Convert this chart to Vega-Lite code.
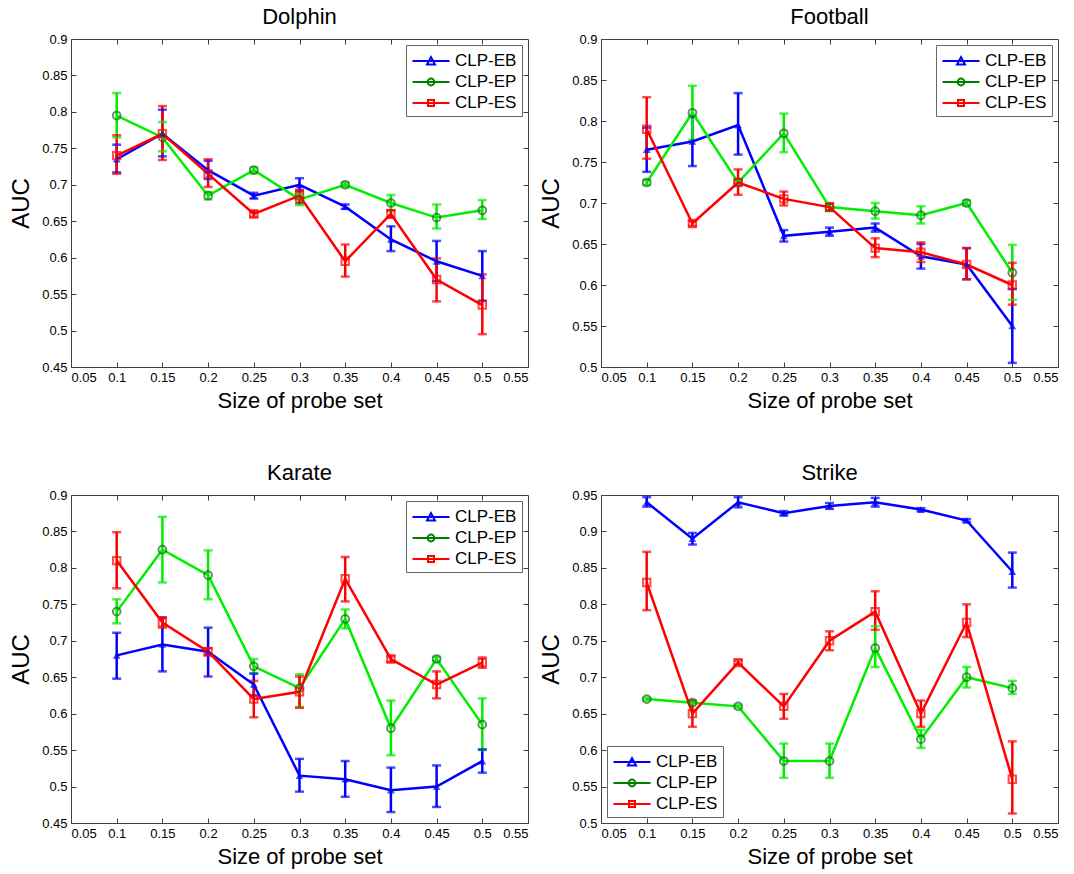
{
  "$schema": "https://vega.github.io/schema/vega-lite/v6.json",
  "background": "white",
  "padding": {"left": 9, "top": 5, "right": 5, "bottom": 5},
  "config": {
    "font": "Liberation Sans",
    "view": {"stroke": "#404040", "strokeWidth": 1},
    "title": {"fontSize": 22, "fontWeight": "normal", "font": "Liberation Sans", "color": "black", "offset": 4},
    "axis": {"grid": false, "domainColor": "#404040", "tickColor": "#404040", "labelFont": "Liberation Sans", "labelFontSize": 13, "labelColor": "black", "labelOverlap": false, "titleFont": "Liberation Sans", "titleFontWeight": "normal", "titleColor": "black", "tickSize": -5, "labelPadding": 9, "tickCount": 20},
    "axisX": {"titleFontSize": 22, "titlePadding": 6},
    "axisY": {"titleFontSize": 24, "titlePadding": 8},
    "legend": {"labelFont": "Liberation Sans", "labelFontSize": 17, "labelColor": "black", "strokeColor": "#666666", "fillColor": "white", "padding": 5, "rowPadding": 2, "offset": 6, "symbolSize": 400, "symbolOffset": 9, "symbolStrokeWidth": 2, "labelOffset": 13, "title": null}
  },
  "data": {"values": [
    {"p":"Dolphin","s":"CLP-EB","x":0.1,"y":0.735,"lo":0.717,"hi":0.755},
    {"p":"Dolphin","s":"CLP-EB","x":0.15,"y":0.77,"lo":0.739,"hi":0.803},
    {"p":"Dolphin","s":"CLP-EB","x":0.2,"y":0.72,"lo":0.708,"hi":0.733},
    {"p":"Dolphin","s":"CLP-EB","x":0.25,"y":0.685,"lo":0.681,"hi":0.689},
    {"p":"Dolphin","s":"CLP-EB","x":0.3,"y":0.7,"lo":0.692,"hi":0.709},
    {"p":"Dolphin","s":"CLP-EB","x":0.35,"y":0.67,"lo":0.667,"hi":0.673},
    {"p":"Dolphin","s":"CLP-EB","x":0.4,"y":0.625,"lo":0.609,"hi":0.643},
    {"p":"Dolphin","s":"CLP-EB","x":0.45,"y":0.595,"lo":0.568,"hi":0.623},
    {"p":"Dolphin","s":"CLP-EB","x":0.5,"y":0.575,"lo":0.541,"hi":0.609},
    {"p":"Dolphin","s":"CLP-EP","x":0.1,"y":0.795,"lo":0.765,"hi":0.826},
    {"p":"Dolphin","s":"CLP-EP","x":0.15,"y":0.765,"lo":0.746,"hi":0.786},
    {"p":"Dolphin","s":"CLP-EP","x":0.2,"y":0.685,"lo":0.68,"hi":0.69},
    {"p":"Dolphin","s":"CLP-EP","x":0.25,"y":0.72,"lo":0.716,"hi":0.724},
    {"p":"Dolphin","s":"CLP-EP","x":0.3,"y":0.68,"lo":0.672,"hi":0.688},
    {"p":"Dolphin","s":"CLP-EP","x":0.35,"y":0.7,"lo":0.697,"hi":0.703},
    {"p":"Dolphin","s":"CLP-EP","x":0.4,"y":0.675,"lo":0.665,"hi":0.686},
    {"p":"Dolphin","s":"CLP-EP","x":0.45,"y":0.655,"lo":0.64,"hi":0.673},
    {"p":"Dolphin","s":"CLP-EP","x":0.5,"y":0.665,"lo":0.653,"hi":0.679},
    {"p":"Dolphin","s":"CLP-ES","x":0.1,"y":0.74,"lo":0.715,"hi":0.768},
    {"p":"Dolphin","s":"CLP-ES","x":0.15,"y":0.77,"lo":0.734,"hi":0.808},
    {"p":"Dolphin","s":"CLP-ES","x":0.2,"y":0.715,"lo":0.697,"hi":0.735},
    {"p":"Dolphin","s":"CLP-ES","x":0.25,"y":0.66,"lo":0.656,"hi":0.664},
    {"p":"Dolphin","s":"CLP-ES","x":0.3,"y":0.685,"lo":0.675,"hi":0.693},
    {"p":"Dolphin","s":"CLP-ES","x":0.35,"y":0.595,"lo":0.574,"hi":0.618},
    {"p":"Dolphin","s":"CLP-ES","x":0.4,"y":0.66,"lo":0.655,"hi":0.665},
    {"p":"Dolphin","s":"CLP-ES","x":0.45,"y":0.57,"lo":0.54,"hi":0.599},
    {"p":"Dolphin","s":"CLP-ES","x":0.5,"y":0.535,"lo":0.495,"hi":0.577},
    {"p":"Football","s":"CLP-EB","x":0.1,"y":0.765,"lo":0.738,"hi":0.792},
    {"p":"Football","s":"CLP-EB","x":0.15,"y":0.775,"lo":0.745,"hi":0.805},
    {"p":"Football","s":"CLP-EB","x":0.2,"y":0.795,"lo":0.759,"hi":0.834},
    {"p":"Football","s":"CLP-EB","x":0.25,"y":0.66,"lo":0.653,"hi":0.667},
    {"p":"Football","s":"CLP-EB","x":0.3,"y":0.665,"lo":0.66,"hi":0.67},
    {"p":"Football","s":"CLP-EB","x":0.35,"y":0.67,"lo":0.665,"hi":0.675},
    {"p":"Football","s":"CLP-EB","x":0.4,"y":0.635,"lo":0.62,"hi":0.65},
    {"p":"Football","s":"CLP-EB","x":0.45,"y":0.625,"lo":0.607,"hi":0.645},
    {"p":"Football","s":"CLP-EB","x":0.5,"y":0.55,"lo":0.505,"hi":0.595},
    {"p":"Football","s":"CLP-EP","x":0.1,"y":0.725,"lo":0.722,"hi":0.728},
    {"p":"Football","s":"CLP-EP","x":0.15,"y":0.81,"lo":0.777,"hi":0.843},
    {"p":"Football","s":"CLP-EP","x":0.2,"y":0.725,"lo":0.722,"hi":0.728},
    {"p":"Football","s":"CLP-EP","x":0.25,"y":0.785,"lo":0.762,"hi":0.809},
    {"p":"Football","s":"CLP-EP","x":0.3,"y":0.695,"lo":0.69,"hi":0.7},
    {"p":"Football","s":"CLP-EP","x":0.35,"y":0.69,"lo":0.681,"hi":0.7},
    {"p":"Football","s":"CLP-EP","x":0.4,"y":0.685,"lo":0.675,"hi":0.696},
    {"p":"Football","s":"CLP-EP","x":0.45,"y":0.7,"lo":0.697,"hi":0.703},
    {"p":"Football","s":"CLP-EP","x":0.5,"y":0.615,"lo":0.582,"hi":0.649},
    {"p":"Football","s":"CLP-ES","x":0.1,"y":0.79,"lo":0.754,"hi":0.829},
    {"p":"Football","s":"CLP-ES","x":0.15,"y":0.675,"lo":0.672,"hi":0.678},
    {"p":"Football","s":"CLP-ES","x":0.2,"y":0.725,"lo":0.71,"hi":0.741},
    {"p":"Football","s":"CLP-ES","x":0.25,"y":0.705,"lo":0.697,"hi":0.714},
    {"p":"Football","s":"CLP-ES","x":0.3,"y":0.695,"lo":0.691,"hi":0.699},
    {"p":"Football","s":"CLP-ES","x":0.35,"y":0.645,"lo":0.634,"hi":0.657},
    {"p":"Football","s":"CLP-ES","x":0.4,"y":0.64,"lo":0.628,"hi":0.652},
    {"p":"Football","s":"CLP-ES","x":0.45,"y":0.625,"lo":0.607,"hi":0.645},
    {"p":"Football","s":"CLP-ES","x":0.5,"y":0.6,"lo":0.576,"hi":0.627},
    {"p":"Karate","s":"CLP-EB","x":0.1,"y":0.68,"lo":0.648,"hi":0.711},
    {"p":"Karate","s":"CLP-EB","x":0.15,"y":0.695,"lo":0.658,"hi":0.732},
    {"p":"Karate","s":"CLP-EB","x":0.2,"y":0.685,"lo":0.651,"hi":0.718},
    {"p":"Karate","s":"CLP-EB","x":0.25,"y":0.64,"lo":0.625,"hi":0.655},
    {"p":"Karate","s":"CLP-EB","x":0.3,"y":0.515,"lo":0.493,"hi":0.538},
    {"p":"Karate","s":"CLP-EB","x":0.35,"y":0.51,"lo":0.486,"hi":0.535},
    {"p":"Karate","s":"CLP-EB","x":0.4,"y":0.495,"lo":0.465,"hi":0.526},
    {"p":"Karate","s":"CLP-EB","x":0.45,"y":0.5,"lo":0.472,"hi":0.529},
    {"p":"Karate","s":"CLP-EB","x":0.5,"y":0.535,"lo":0.519,"hi":0.551},
    {"p":"Karate","s":"CLP-EP","x":0.1,"y":0.74,"lo":0.724,"hi":0.757},
    {"p":"Karate","s":"CLP-EP","x":0.15,"y":0.825,"lo":0.78,"hi":0.87},
    {"p":"Karate","s":"CLP-EP","x":0.2,"y":0.79,"lo":0.757,"hi":0.824},
    {"p":"Karate","s":"CLP-EP","x":0.25,"y":0.665,"lo":0.655,"hi":0.675},
    {"p":"Karate","s":"CLP-EP","x":0.3,"y":0.635,"lo":0.609,"hi":0.654},
    {"p":"Karate","s":"CLP-EP","x":0.35,"y":0.73,"lo":0.717,"hi":0.743},
    {"p":"Karate","s":"CLP-EP","x":0.4,"y":0.58,"lo":0.543,"hi":0.618},
    {"p":"Karate","s":"CLP-EP","x":0.45,"y":0.675,"lo":0.672,"hi":0.678},
    {"p":"Karate","s":"CLP-EP","x":0.5,"y":0.585,"lo":0.55,"hi":0.621},
    {"p":"Karate","s":"CLP-ES","x":0.1,"y":0.81,"lo":0.772,"hi":0.849},
    {"p":"Karate","s":"CLP-ES","x":0.15,"y":0.725,"lo":0.718,"hi":0.732},
    {"p":"Karate","s":"CLP-ES","x":0.2,"y":0.685,"lo":0.68,"hi":0.69},
    {"p":"Karate","s":"CLP-ES","x":0.25,"y":0.62,"lo":0.595,"hi":0.645},
    {"p":"Karate","s":"CLP-ES","x":0.3,"y":0.63,"lo":0.608,"hi":0.651},
    {"p":"Karate","s":"CLP-ES","x":0.35,"y":0.785,"lo":0.754,"hi":0.815},
    {"p":"Karate","s":"CLP-ES","x":0.4,"y":0.675,"lo":0.671,"hi":0.679},
    {"p":"Karate","s":"CLP-ES","x":0.45,"y":0.64,"lo":0.621,"hi":0.658},
    {"p":"Karate","s":"CLP-ES","x":0.5,"y":0.67,"lo":0.663,"hi":0.677},
    {"p":"Strike","s":"CLP-EB","x":0.1,"y":0.94,"lo":0.934,"hi":0.947},
    {"p":"Strike","s":"CLP-EB","x":0.15,"y":0.89,"lo":0.882,"hi":0.898},
    {"p":"Strike","s":"CLP-EB","x":0.2,"y":0.94,"lo":0.933,"hi":0.947},
    {"p":"Strike","s":"CLP-EB","x":0.25,"y":0.925,"lo":0.922,"hi":0.928},
    {"p":"Strike","s":"CLP-EB","x":0.3,"y":0.935,"lo":0.931,"hi":0.939},
    {"p":"Strike","s":"CLP-EB","x":0.35,"y":0.94,"lo":0.934,"hi":0.946},
    {"p":"Strike","s":"CLP-EB","x":0.4,"y":0.93,"lo":0.928,"hi":0.932},
    {"p":"Strike","s":"CLP-EB","x":0.45,"y":0.915,"lo":0.913,"hi":0.917},
    {"p":"Strike","s":"CLP-EB","x":0.5,"y":0.845,"lo":0.823,"hi":0.871},
    {"p":"Strike","s":"CLP-EP","x":0.1,"y":0.67,"lo":0.668,"hi":0.672},
    {"p":"Strike","s":"CLP-EP","x":0.15,"y":0.665,"lo":0.663,"hi":0.667},
    {"p":"Strike","s":"CLP-EP","x":0.2,"y":0.66,"lo":0.658,"hi":0.662},
    {"p":"Strike","s":"CLP-EP","x":0.25,"y":0.585,"lo":0.562,"hi":0.609},
    {"p":"Strike","s":"CLP-EP","x":0.3,"y":0.585,"lo":0.562,"hi":0.609},
    {"p":"Strike","s":"CLP-EP","x":0.35,"y":0.74,"lo":0.714,"hi":0.77},
    {"p":"Strike","s":"CLP-EP","x":0.4,"y":0.615,"lo":0.603,"hi":0.628},
    {"p":"Strike","s":"CLP-EP","x":0.45,"y":0.7,"lo":0.686,"hi":0.714},
    {"p":"Strike","s":"CLP-EP","x":0.5,"y":0.685,"lo":0.677,"hi":0.695},
    {"p":"Strike","s":"CLP-ES","x":0.1,"y":0.83,"lo":0.792,"hi":0.872},
    {"p":"Strike","s":"CLP-ES","x":0.15,"y":0.65,"lo":0.632,"hi":0.668},
    {"p":"Strike","s":"CLP-ES","x":0.2,"y":0.72,"lo":0.717,"hi":0.723},
    {"p":"Strike","s":"CLP-ES","x":0.25,"y":0.66,"lo":0.643,"hi":0.677},
    {"p":"Strike","s":"CLP-ES","x":0.3,"y":0.75,"lo":0.737,"hi":0.763},
    {"p":"Strike","s":"CLP-ES","x":0.35,"y":0.79,"lo":0.765,"hi":0.818},
    {"p":"Strike","s":"CLP-ES","x":0.4,"y":0.65,"lo":0.632,"hi":0.668},
    {"p":"Strike","s":"CLP-ES","x":0.45,"y":0.775,"lo":0.755,"hi":0.8},
    {"p":"Strike","s":"CLP-ES","x":0.5,"y":0.56,"lo":0.513,"hi":0.612}
  ]},
  "resolve": {"legend": {"stroke": "independent", "shape": "independent"}, "scale": {"y": "independent", "stroke": "independent", "shape": "independent"}},
  "spacing": 49,
  "vconcat": [
    {
      "spacing": 10,
      "resolve": {"legend": {"stroke": "independent", "shape": "independent"}, "scale": {"y": "independent", "stroke": "independent", "shape": "independent"}},
      "hconcat": [
        {
          "title": "Dolphin", "width": 457, "height": 328,
          "transform": [{"filter": "datum.p === 'Dolphin'"}],
          "resolve": {"axis": {"x": "independent", "y": "independent"}},
          "layer": [
            {
              "encoding": {"x": {"field": "x", "type": "quantitative", "title": "Size of probe set", "scale": {"domain": [0.05, 0.55], "nice": false, "zero": false}, "axis": {"values": [0.05, 0.1, 0.15, 0.2, 0.25, 0.3, 0.35, 0.4, 0.45, 0.5, 0.55], "format": "~g", "tickCount": 20}}},
              "layer": [
                {"mark": {"type": "rule", "strokeWidth": 2.5}, "encoding": {"y": {"field": "lo", "type": "quantitative", "title": "AUC", "scale": {"domain": [0.45, 0.9], "nice": false, "zero": false}, "axis": {"values": [0.45, 0.5, 0.55, 0.6, 0.65, 0.7, 0.75, 0.8, 0.85, 0.9], "format": "~g", "tickCount": 20}}, "y2": {"field": "hi"}, "color": {"field": "s", "type": "nominal", "scale": {"domain": ["CLP-EB", "CLP-EP", "CLP-ES"], "range": ["#0000ff", "#00ee00", "#ff0000"]}, "legend": null}}},
                {"mark": {"type": "tick", "orient": "horizontal", "size": 9, "thickness": 2.5}, "encoding": {"y": {"field": "lo", "type": "quantitative", "title": "AUC"}, "color": {"field": "s", "type": "nominal", "legend": null}}},
                {"mark": {"type": "tick", "orient": "horizontal", "size": 9, "thickness": 2.5}, "encoding": {"y": {"field": "hi", "type": "quantitative", "title": "AUC"}, "color": {"field": "s", "type": "nominal", "legend": null}}},
                {"mark": {"type": "line", "strokeWidth": 2.5}, "encoding": {"y": {"field": "y", "type": "quantitative", "title": "AUC"}, "color": {"field": "s", "type": "nominal", "legend": null}}},
                {"transform": [{"filter": "datum.s === 'CLP-EB'"}], "mark": {"type": "point", "shape": "triangle-up", "filled": true, "size": 60, "color": "#0000ff"}, "encoding": {"y": {"field": "y", "type": "quantitative", "title": "AUC"}}},
                {"transform": [{"filter": "datum.s === 'CLP-EP'"}], "mark": {"type": "point", "shape": "circle", "filled": false, "size": 60, "strokeWidth": 2, "color": "#1c6b1c"}, "encoding": {"y": {"field": "y", "type": "quantitative", "title": "AUC"}}},
                {"transform": [{"filter": "datum.s === 'CLP-ES'"}], "mark": {"type": "point", "shape": "square", "filled": false, "size": 55, "strokeWidth": 2, "color": "#ff0000"}, "encoding": {"y": {"field": "y", "type": "quantitative", "title": "AUC"}}},
                {"mark": {"type": "point", "opacity": 0, "filled": false}, "encoding": {"y": {"field": "y", "type": "quantitative", "title": "AUC"}, "stroke": {"field": "s", "type": "nominal", "scale": {"domain": ["CLP-EB", "CLP-EP", "CLP-ES"], "range": ["#0000ff", "#008000", "#ff0000"]}, "legend": {"orient": "top-right", "symbolOpacity": 1}}, "shape": {"field": "s", "type": "nominal", "scale": {"domain": ["CLP-EB", "CLP-EP", "CLP-ES"], "range": ["M-1.85,0H1.85M-0.4,0.34L0,-0.4L0.4,0.34Z", "M-1.85,0H1.85M-0.34,0A0.34,0.34 0 1,0 0.34,0A0.34,0.34 0 1,0 -0.34,0", "M-1.85,0H1.85M-0.3,-0.3H0.3V0.3H-0.3Z"]}, "legend": {"orient": "top-right", "symbolOpacity": 1}}}}
              ]
            },
            {"mark": {"type": "point", "opacity": 0}, "encoding": {"x": {"field": "x", "type": "quantitative", "title": null, "axis": {"orient": "top", "labels": false, "domain": false, "values": [0.1, 0.15, 0.2, 0.25, 0.3, 0.35, 0.4, 0.45, 0.5], "tickCount": 20}}, "y": {"field": "y", "type": "quantitative", "title": null, "axis": {"orient": "right", "labels": false, "domain": false, "values": [0.5, 0.55, 0.6, 0.65, 0.7, 0.75, 0.8, 0.85], "tickCount": 20}}}}
          ]
        },
        {
          "title": "Football", "width": 457, "height": 328,
          "transform": [{"filter": "datum.p === 'Football'"}],
          "resolve": {"axis": {"x": "independent", "y": "independent"}},
          "layer": [
            {
              "encoding": {"x": {"field": "x", "type": "quantitative", "title": "Size of probe set", "scale": {"domain": [0.05, 0.55], "nice": false, "zero": false}, "axis": {"values": [0.05, 0.1, 0.15, 0.2, 0.25, 0.3, 0.35, 0.4, 0.45, 0.5, 0.55], "format": "~g", "tickCount": 20}}},
              "layer": [
                {"mark": {"type": "rule", "strokeWidth": 2.5}, "encoding": {"y": {"field": "lo", "type": "quantitative", "title": "AUC", "scale": {"domain": [0.5, 0.9], "nice": false, "zero": false}, "axis": {"values": [0.5, 0.55, 0.6, 0.65, 0.7, 0.75, 0.8, 0.85, 0.9], "format": "~g", "tickCount": 20}}, "y2": {"field": "hi"}, "color": {"field": "s", "type": "nominal", "scale": {"domain": ["CLP-EB", "CLP-EP", "CLP-ES"], "range": ["#0000ff", "#00ee00", "#ff0000"]}, "legend": null}}},
                {"mark": {"type": "tick", "orient": "horizontal", "size": 9, "thickness": 2.5}, "encoding": {"y": {"field": "lo", "type": "quantitative", "title": "AUC"}, "color": {"field": "s", "type": "nominal", "legend": null}}},
                {"mark": {"type": "tick", "orient": "horizontal", "size": 9, "thickness": 2.5}, "encoding": {"y": {"field": "hi", "type": "quantitative", "title": "AUC"}, "color": {"field": "s", "type": "nominal", "legend": null}}},
                {"mark": {"type": "line", "strokeWidth": 2.5}, "encoding": {"y": {"field": "y", "type": "quantitative", "title": "AUC"}, "color": {"field": "s", "type": "nominal", "legend": null}}},
                {"transform": [{"filter": "datum.s === 'CLP-EB'"}], "mark": {"type": "point", "shape": "triangle-up", "filled": true, "size": 60, "color": "#0000ff"}, "encoding": {"y": {"field": "y", "type": "quantitative", "title": "AUC"}}},
                {"transform": [{"filter": "datum.s === 'CLP-EP'"}], "mark": {"type": "point", "shape": "circle", "filled": false, "size": 60, "strokeWidth": 2, "color": "#1c6b1c"}, "encoding": {"y": {"field": "y", "type": "quantitative", "title": "AUC"}}},
                {"transform": [{"filter": "datum.s === 'CLP-ES'"}], "mark": {"type": "point", "shape": "square", "filled": false, "size": 55, "strokeWidth": 2, "color": "#ff0000"}, "encoding": {"y": {"field": "y", "type": "quantitative", "title": "AUC"}}},
                {"mark": {"type": "point", "opacity": 0, "filled": false}, "encoding": {"y": {"field": "y", "type": "quantitative", "title": "AUC"}, "stroke": {"field": "s", "type": "nominal", "scale": {"domain": ["CLP-EB", "CLP-EP", "CLP-ES"], "range": ["#0000ff", "#008000", "#ff0000"]}, "legend": {"orient": "top-right", "symbolOpacity": 1}}, "shape": {"field": "s", "type": "nominal", "scale": {"domain": ["CLP-EB", "CLP-EP", "CLP-ES"], "range": ["M-1.85,0H1.85M-0.4,0.34L0,-0.4L0.4,0.34Z", "M-1.85,0H1.85M-0.34,0A0.34,0.34 0 1,0 0.34,0A0.34,0.34 0 1,0 -0.34,0", "M-1.85,0H1.85M-0.3,-0.3H0.3V0.3H-0.3Z"]}, "legend": {"orient": "top-right", "symbolOpacity": 1}}}}
              ]
            },
            {"mark": {"type": "point", "opacity": 0}, "encoding": {"x": {"field": "x", "type": "quantitative", "title": null, "axis": {"orient": "top", "labels": false, "domain": false, "values": [0.1, 0.15, 0.2, 0.25, 0.3, 0.35, 0.4, 0.45, 0.5], "tickCount": 20}}, "y": {"field": "y", "type": "quantitative", "title": null, "axis": {"orient": "right", "labels": false, "domain": false, "values": [0.55, 0.6, 0.65, 0.7, 0.75, 0.8, 0.85], "tickCount": 20}}}}
          ]
        }
      ]
    },
    {
      "spacing": 10,
      "resolve": {"legend": {"stroke": "independent", "shape": "independent"}, "scale": {"y": "independent", "stroke": "independent", "shape": "independent"}},
      "hconcat": [
        {
          "title": "Karate", "width": 457, "height": 328,
          "transform": [{"filter": "datum.p === 'Karate'"}],
          "resolve": {"axis": {"x": "independent", "y": "independent"}},
          "layer": [
            {
              "encoding": {"x": {"field": "x", "type": "quantitative", "title": "Size of probe set", "scale": {"domain": [0.05, 0.55], "nice": false, "zero": false}, "axis": {"values": [0.05, 0.1, 0.15, 0.2, 0.25, 0.3, 0.35, 0.4, 0.45, 0.5, 0.55], "format": "~g", "tickCount": 20}}},
              "layer": [
                {"mark": {"type": "rule", "strokeWidth": 2.5}, "encoding": {"y": {"field": "lo", "type": "quantitative", "title": "AUC", "scale": {"domain": [0.45, 0.9], "nice": false, "zero": false}, "axis": {"values": [0.45, 0.5, 0.55, 0.6, 0.65, 0.7, 0.75, 0.8, 0.85, 0.9], "format": "~g", "tickCount": 20}}, "y2": {"field": "hi"}, "color": {"field": "s", "type": "nominal", "scale": {"domain": ["CLP-EB", "CLP-EP", "CLP-ES"], "range": ["#0000ff", "#00ee00", "#ff0000"]}, "legend": null}}},
                {"mark": {"type": "tick", "orient": "horizontal", "size": 9, "thickness": 2.5}, "encoding": {"y": {"field": "lo", "type": "quantitative", "title": "AUC"}, "color": {"field": "s", "type": "nominal", "legend": null}}},
                {"mark": {"type": "tick", "orient": "horizontal", "size": 9, "thickness": 2.5}, "encoding": {"y": {"field": "hi", "type": "quantitative", "title": "AUC"}, "color": {"field": "s", "type": "nominal", "legend": null}}},
                {"mark": {"type": "line", "strokeWidth": 2.5}, "encoding": {"y": {"field": "y", "type": "quantitative", "title": "AUC"}, "color": {"field": "s", "type": "nominal", "legend": null}}},
                {"transform": [{"filter": "datum.s === 'CLP-EB'"}], "mark": {"type": "point", "shape": "triangle-up", "filled": true, "size": 60, "color": "#0000ff"}, "encoding": {"y": {"field": "y", "type": "quantitative", "title": "AUC"}}},
                {"transform": [{"filter": "datum.s === 'CLP-EP'"}], "mark": {"type": "point", "shape": "circle", "filled": false, "size": 60, "strokeWidth": 2, "color": "#1c6b1c"}, "encoding": {"y": {"field": "y", "type": "quantitative", "title": "AUC"}}},
                {"transform": [{"filter": "datum.s === 'CLP-ES'"}], "mark": {"type": "point", "shape": "square", "filled": false, "size": 55, "strokeWidth": 2, "color": "#ff0000"}, "encoding": {"y": {"field": "y", "type": "quantitative", "title": "AUC"}}},
                {"mark": {"type": "point", "opacity": 0, "filled": false}, "encoding": {"y": {"field": "y", "type": "quantitative", "title": "AUC"}, "stroke": {"field": "s", "type": "nominal", "scale": {"domain": ["CLP-EB", "CLP-EP", "CLP-ES"], "range": ["#0000ff", "#008000", "#ff0000"]}, "legend": {"orient": "top-right", "symbolOpacity": 1}}, "shape": {"field": "s", "type": "nominal", "scale": {"domain": ["CLP-EB", "CLP-EP", "CLP-ES"], "range": ["M-1.85,0H1.85M-0.4,0.34L0,-0.4L0.4,0.34Z", "M-1.85,0H1.85M-0.34,0A0.34,0.34 0 1,0 0.34,0A0.34,0.34 0 1,0 -0.34,0", "M-1.85,0H1.85M-0.3,-0.3H0.3V0.3H-0.3Z"]}, "legend": {"orient": "top-right", "symbolOpacity": 1}}}}
              ]
            },
            {"mark": {"type": "point", "opacity": 0}, "encoding": {"x": {"field": "x", "type": "quantitative", "title": null, "axis": {"orient": "top", "labels": false, "domain": false, "values": [0.1, 0.15, 0.2, 0.25, 0.3, 0.35, 0.4, 0.45, 0.5], "tickCount": 20}}, "y": {"field": "y", "type": "quantitative", "title": null, "axis": {"orient": "right", "labels": false, "domain": false, "values": [0.5, 0.55, 0.6, 0.65, 0.7, 0.75, 0.8, 0.85], "tickCount": 20}}}}
          ]
        },
        {
          "title": "Strike", "width": 457, "height": 328,
          "transform": [{"filter": "datum.p === 'Strike'"}],
          "resolve": {"axis": {"x": "independent", "y": "independent"}},
          "layer": [
            {
              "encoding": {"x": {"field": "x", "type": "quantitative", "title": "Size of probe set", "scale": {"domain": [0.05, 0.55], "nice": false, "zero": false}, "axis": {"values": [0.05, 0.1, 0.15, 0.2, 0.25, 0.3, 0.35, 0.4, 0.45, 0.5, 0.55], "format": "~g", "tickCount": 20}}},
              "layer": [
                {"mark": {"type": "rule", "strokeWidth": 2.5}, "encoding": {"y": {"field": "lo", "type": "quantitative", "title": "AUC", "scale": {"domain": [0.5, 0.95], "nice": false, "zero": false}, "axis": {"values": [0.5, 0.55, 0.6, 0.65, 0.7, 0.75, 0.8, 0.85, 0.9, 0.95], "format": "~g", "tickCount": 20}}, "y2": {"field": "hi"}, "color": {"field": "s", "type": "nominal", "scale": {"domain": ["CLP-EB", "CLP-EP", "CLP-ES"], "range": ["#0000ff", "#00ee00", "#ff0000"]}, "legend": null}}},
                {"mark": {"type": "tick", "orient": "horizontal", "size": 9, "thickness": 2.5}, "encoding": {"y": {"field": "lo", "type": "quantitative", "title": "AUC"}, "color": {"field": "s", "type": "nominal", "legend": null}}},
                {"mark": {"type": "tick", "orient": "horizontal", "size": 9, "thickness": 2.5}, "encoding": {"y": {"field": "hi", "type": "quantitative", "title": "AUC"}, "color": {"field": "s", "type": "nominal", "legend": null}}},
                {"mark": {"type": "line", "strokeWidth": 2.5}, "encoding": {"y": {"field": "y", "type": "quantitative", "title": "AUC"}, "color": {"field": "s", "type": "nominal", "legend": null}}},
                {"transform": [{"filter": "datum.s === 'CLP-EB'"}], "mark": {"type": "point", "shape": "triangle-up", "filled": true, "size": 60, "color": "#0000ff"}, "encoding": {"y": {"field": "y", "type": "quantitative", "title": "AUC"}}},
                {"transform": [{"filter": "datum.s === 'CLP-EP'"}], "mark": {"type": "point", "shape": "circle", "filled": false, "size": 60, "strokeWidth": 2, "color": "#1c6b1c"}, "encoding": {"y": {"field": "y", "type": "quantitative", "title": "AUC"}}},
                {"transform": [{"filter": "datum.s === 'CLP-ES'"}], "mark": {"type": "point", "shape": "square", "filled": false, "size": 55, "strokeWidth": 2, "color": "#ff0000"}, "encoding": {"y": {"field": "y", "type": "quantitative", "title": "AUC"}}},
                {"mark": {"type": "point", "opacity": 0, "filled": false}, "encoding": {"y": {"field": "y", "type": "quantitative", "title": "AUC"}, "stroke": {"field": "s", "type": "nominal", "scale": {"domain": ["CLP-EB", "CLP-EP", "CLP-ES"], "range": ["#0000ff", "#008000", "#ff0000"]}, "legend": {"orient": "bottom-left", "symbolOpacity": 1}}, "shape": {"field": "s", "type": "nominal", "scale": {"domain": ["CLP-EB", "CLP-EP", "CLP-ES"], "range": ["M-1.85,0H1.85M-0.4,0.34L0,-0.4L0.4,0.34Z", "M-1.85,0H1.85M-0.34,0A0.34,0.34 0 1,0 0.34,0A0.34,0.34 0 1,0 -0.34,0", "M-1.85,0H1.85M-0.3,-0.3H0.3V0.3H-0.3Z"]}, "legend": {"orient": "bottom-left", "symbolOpacity": 1}}}}
              ]
            },
            {"mark": {"type": "point", "opacity": 0}, "encoding": {"x": {"field": "x", "type": "quantitative", "title": null, "axis": {"orient": "top", "labels": false, "domain": false, "values": [0.1, 0.15, 0.2, 0.25, 0.3, 0.35, 0.4, 0.45, 0.5], "tickCount": 20}}, "y": {"field": "y", "type": "quantitative", "title": null, "axis": {"orient": "right", "labels": false, "domain": false, "values": [0.55, 0.6, 0.65, 0.7, 0.75, 0.8, 0.85, 0.9], "tickCount": 20}}}}
          ]
        }
      ]
    }
  ]
}
